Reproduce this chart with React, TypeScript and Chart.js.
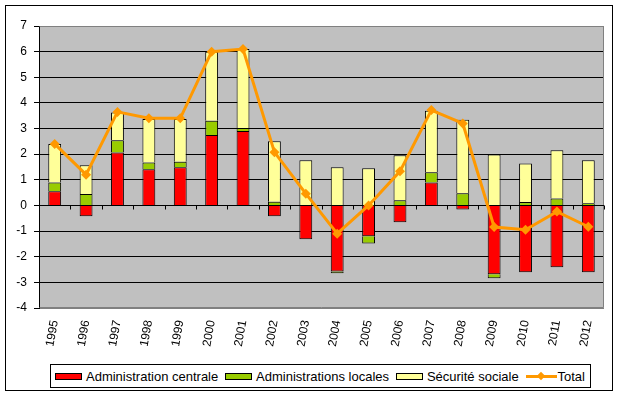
import React, { useEffect, useRef } from "react";
import { Chart, registerables } from "chart.js";

Chart.register(...registerables);

const years = ["1995","1996","1997","1998","1999","2000","2001","2002","2003","2004","2005","2006","2007","2008","2009","2010","2011","2012"];
const adminCentrale = [0.55, -0.42, 2.07, 1.41, 1.49, 2.75, 2.9, -0.42, -1.32, -2.58, -1.2, -0.66, 0.9, -0.16, -2.68, -2.61, -2.41, -2.61];
const adminLocales = [0.35, 0.45, 0.47, 0.27, 0.21, 0.55, 0.12, 0.14, 0.0, -0.06, -0.28, 0.2, 0.4, 0.48, -0.16, 0.13, 0.27, 0.09];
const securiteSociale = [1.5, 1.12, 1.09, 1.69, 1.67, 2.7, 3.08, 2.36, 1.76, 1.49, 1.45, 1.76, 2.39, 2.86, 1.99, 1.51, 1.88, 1.67];
const total = [2.4, 1.2, 3.65, 3.4, 3.4, 6.0, 6.1, 2.08, 0.46, -1.1, 0.0, 1.33, 3.72, 3.2, -0.84, -0.95, -0.24, -0.83];

const seriesNames = ["Administration centrale", "Administrations locales", "Sécurité sociale", "Total"];
const seriesColors = ["#FF0000", "#99CC00", "#FFFF99", "#FF9900"];

const FONT = "'Liberation Sans', Arial, sans-serif";

const plotPlugin = {
  id: "plotDecor",
  beforeDraw(chart: any) {
    const { ctx, chartArea } = chart;
    ctx.save();
    ctx.fillStyle = "#C0C0C0";
    ctx.fillRect(chartArea.left, chartArea.top, chartArea.right - chartArea.left, chartArea.bottom - chartArea.top);
    ctx.restore();
  },
  beforeDatasetsDraw(chart: any) {
    const { ctx, chartArea } = chart;
    const xs = chart.scales.x;
    const ys = chart.scales.y;
    ctx.save();
    ctx.strokeStyle = "#808080";
    ctx.lineWidth = 1;
    ctx.beginPath();
    ctx.moveTo(chartArea.left + 0.5, chartArea.top + 0.5);
    ctx.lineTo(chartArea.right - 0.5, chartArea.top + 0.5);
    ctx.lineTo(chartArea.right - 0.5, chartArea.bottom - 0.5);
    ctx.lineTo(chartArea.left + 0.5, chartArea.bottom - 0.5);
    ctx.stroke();
    // zero axis tick marks
    const y0 = Math.round(ys.getPixelForValue(0)) + 0.5;
    const n = years.length;
    const w = (xs.right - xs.left) / n;
    ctx.strokeStyle = "#000";
    ctx.beginPath();
    for (let i = 1; i <= n; i++) {
      const x = Math.round(xs.left + i * w) + 0.5;
      ctx.moveTo(x, y0);
      ctx.lineTo(x, y0 + 4);
    }
    ctx.moveTo(chartArea.left, y0);
    ctx.lineTo(chartArea.right, y0);
    ctx.stroke();
    ctx.restore();
  },
};

function ChartCanvas() {
  const ref = useRef<HTMLCanvasElement>(null);
  useEffect(() => {
    if (!ref.current) return;
    const barCommon = {
      type: "bar" as const,
      borderColor: "#000000",
      borderWidth: 1,
      barPercentage: 0.41,
      categoryPercentage: 1,
      order: 1,
      stack: "s",
    };
    const chart = new Chart(ref.current, {
      type: "bar",
      data: {
        labels: years,
        datasets: [
          { ...barCommon, label: seriesNames[0], data: adminCentrale, backgroundColor: seriesColors[0] },
          { ...barCommon, label: seriesNames[1], data: adminLocales, backgroundColor: seriesColors[1] },
          { ...barCommon, label: seriesNames[2], data: securiteSociale, backgroundColor: seriesColors[2] },
          {
            type: "line" as const,
            label: seriesNames[3],
            data: total,
            borderColor: seriesColors[3],
            backgroundColor: seriesColors[3],
            borderWidth: 3,
            pointStyle: "rectRot",
            pointRadius: 5,
            pointBorderWidth: 0,
            pointBackgroundColor: seriesColors[3],
            tension: 0,
            order: 0,
            stack: "total",
          } as any,
        ],
      },
      options: {
        animation: false,
        responsive: false,
        maintainAspectRatio: false,
        devicePixelRatio: 1,
        layout: { padding: { left: 0, right: 15, top: 26, bottom: 39 } },
        plugins: { legend: { display: false }, tooltip: { enabled: false } },
        scales: {
          x: {
            stacked: true,
            grid: { display: false, drawTicks: false },
            border: { display: false },
            ticks: {
              color: "#000",
              font: { family: FONT, size: 12 },
              minRotation: 80,
              maxRotation: 80,
              padding: 11,
              autoSkip: false,
            },
            afterFit: (s: any) => { s.height = 50; },
          },
          y: {
            stacked: true,
            min: -4,
            max: 7,
            grid: {
              color: (c: any) => (c.tick && (c.tick.value === 7 || c.tick.value === -4) ? "#808080" : "#000000"),
              tickColor: "#000000",
              tickLength: 5,
              lineWidth: 1,
            },
            border: { display: true, color: "#000000", width: 1 },
            ticks: {
              stepSize: 1,
              color: "#000",
              font: { family: FONT, size: 12 },
              padding: 7,
            },
            afterFit: (s: any) => { s.width = 39; },
          },
        },
      },
      plugins: [plotPlugin],
    } as any);
    return () => chart.destroy();
  }, []);
  return <canvas ref={ref} width={619} height={397} style={{ position: "absolute", left: 0, top: 0, width: 619, height: 397 }} />;
}

function LegendItem({ i }: { i: number }) {
  const isLine = i === 3;
  return (
    <div style={{ display: "flex", alignItems: "center", whiteSpace: "nowrap" }}>
      {isLine ? (
        <div style={{ position: "relative", width: 31, height: 9, marginRight: 1 }}>
          <div style={{ position: "absolute", left: 0, top: 3, width: 31, height: 3, background: seriesColors[3] }} />
          <div style={{ position: "absolute", left: 12, top: 1, width: 6, height: 6, background: seriesColors[3], transform: "rotate(45deg)" }} />
        </div>
      ) : (
        <div style={{ width: 25, height: 5, border: "1px solid #000", background: seriesColors[i], marginRight: 4 }} />
      )}
      <span>{seriesNames[i]}</span>
    </div>
  );
}

export default function App() {
  return (
    <div style={{ position: "absolute", left: 0, top: 0, width: 619, height: 397, background: "#fff" }}>
      <div style={{ position: "absolute", left: 5, top: 5, width: 608, height: 386, border: "1px solid #000", boxSizing: "border-box" }} />
      <ChartCanvas />
      <div
        style={{
          position: "absolute",
          left: 50,
          top: 364,
          width: 541,
          height: 24,
          boxSizing: "border-box",
          border: "1px solid #000",
          background: "#fff",
          display: "flex",
          alignItems: "center",
          justifyContent: "space-between",
          padding: "0 5px 0 4px",
          fontFamily: FONT,
          fontSize: 13,
          color: "#000",
        }}
      >
        {[0, 1, 2, 3].map((i) => (
          <LegendItem key={i} i={i} />
        ))}
      </div>
    </div>
  );
}
